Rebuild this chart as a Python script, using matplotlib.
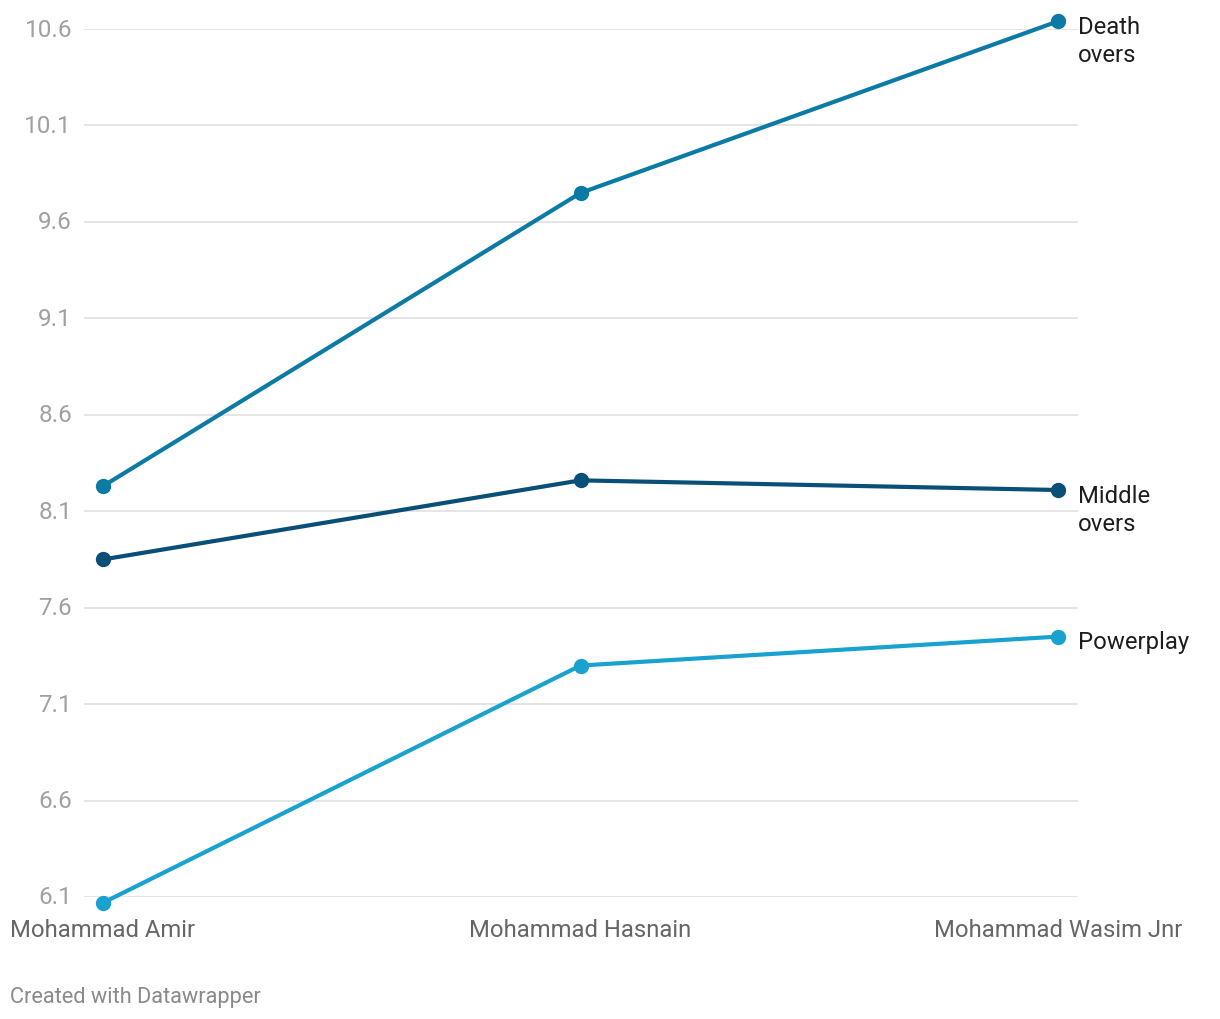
import matplotlib
matplotlib.use("Agg")
import matplotlib.pyplot as plt
from matplotlib.transforms import blended_transform_factory

plt.rcParams['font.family'] = ['Roboto', 'DejaVu Sans']

players = ["Mohammad Amir", "Mohammad Hasnain", "Mohammad Wasim Jnr"]
death = [8.23, 9.75, 10.64]
middle = [7.85, 8.26, 8.21]
powerplay = [6.07, 7.30, 7.45]
series_names = ["Death\novers", "Middle\novers", "Powerplay"]
series_colors = ["#0b7aa5", "#0a4f78", "#19a2cf"]
yticks = [6.1, 6.6, 7.1, 7.6, 8.1, 8.6, 9.1, 9.6, 10.1, 10.6]

W, H = 1220, 1020
fig = plt.figure(figsize=(W / 100, H / 100), dpi=100)
left, right, top, bottom = 84, 1078, 30, 898
ax = fig.add_axes([left / W, 1 - bottom / H, (right - left) / W, (bottom - top) / H])

x = list(range(len(players)))
px_per_unit = (581 - 103) / 1.0
ax.set_xlim(0 - (103 - left) / px_per_unit, 2 + (right - 1058) / px_per_unit)
ax.set_ylim(yticks[0], yticks[-1])

for yv in yticks:
    ax.axhline(yv, color="#e3e3e3", lw=1.3, zorder=1)

trans = blended_transform_factory(fig.transFigure, ax.transData)
for yv in yticks:
    ax.text(72 / W, yv, f"{yv:.1f}", transform=trans, ha="right", va="center",
            fontsize=17.5, color="#a0a0a0")

for vals, name, col in zip([death, middle, powerplay], series_names, series_colors):
    ax.plot(x, vals, color=col, lw=3, marker="o", ms=10, clip_on=False, zorder=3,
            solid_capstyle="round")
    ax.annotate(name, xy=(x[-1], vals[-1]), xytext=(14.4, 4.5), textcoords="offset points",
                ha="left", va="top", fontsize=17.2, color="#1d1d1d", linespacing=1.3,
                annotation_clip=False)

transx = blended_transform_factory(ax.transData, fig.transFigure)
for xi, p in zip(x, players):
    ax.text(xi, 1 - 931 / H, p, transform=transx, ha="center", va="center",
            fontsize=17.2, color="#666666")

fig.text(10 / W, 1 - 998 / H, "Created with Datawrapper", ha="left", va="center",
         fontsize=15.7, color="#8a8a8a")

ax.set_axis_off()
fig.savefig("out.png", dpi=100)
